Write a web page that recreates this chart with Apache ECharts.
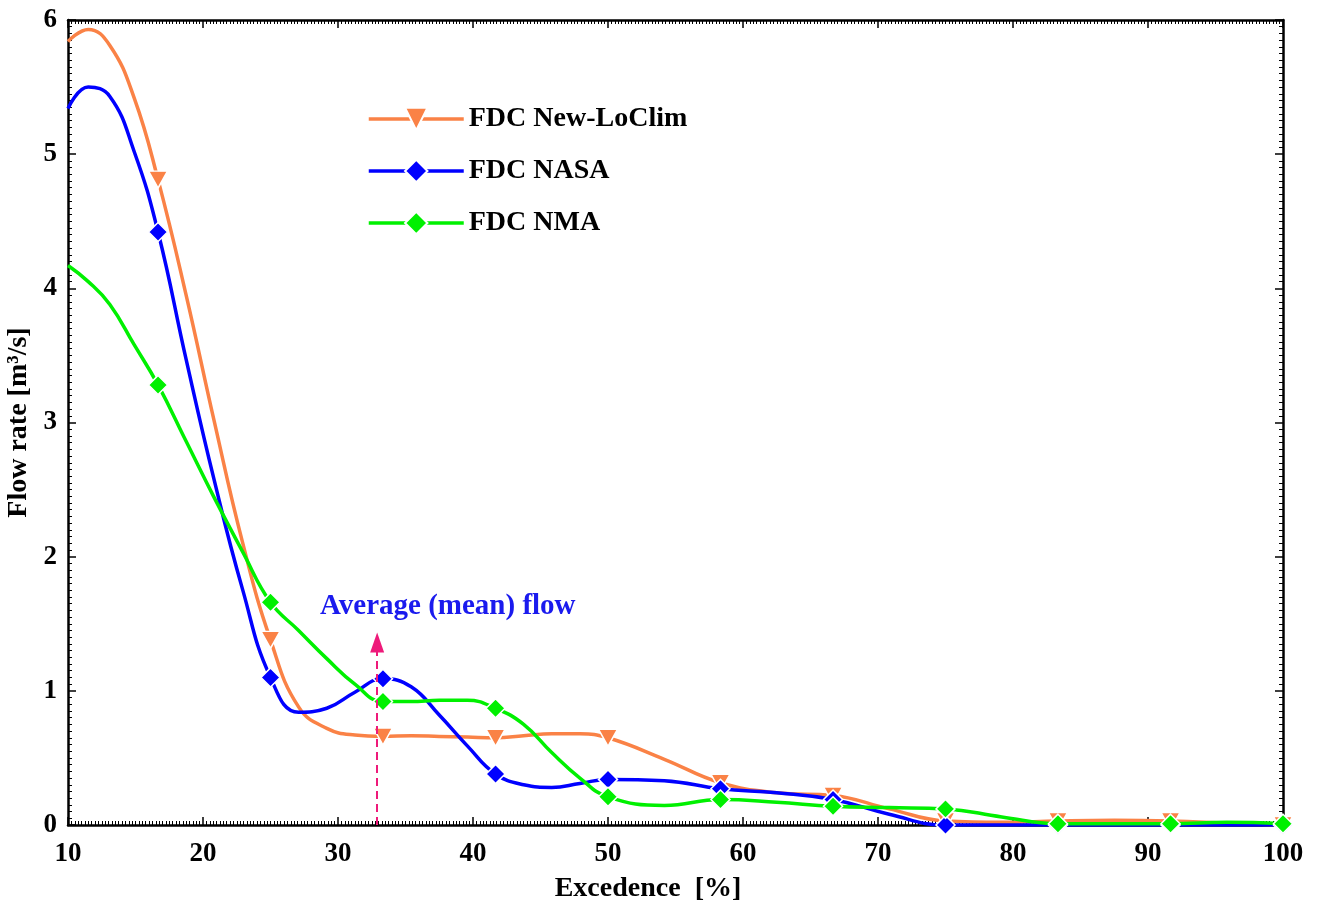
<!DOCTYPE html>
<html>
<head>
<meta charset="utf-8">
<title>FDC</title>
<script src="https://cdn.jsdelivr.net/npm/echarts@6/dist/echarts.min.js"></script>
<style>
html,body{margin:0;padding:0;background:#fff;}
#main{width:1320px;height:904px;}
</style>
</head>
<body>
<div id="main"></div>
<script>
// excedence [%] where the curves were read
var excedence = [10, 11.5, 13.1, 14.9, 16.67, 18.75, 20.83, 22.92, 25, 27.08, 29.17, 31.25, 33.33, 35.42, 37.5, 39.58, 41.67,
	43.75, 45.83, 47.92, 50, 54.17, 58.33, 62.5, 66.67, 70.83, 75, 79.17, 83.33, 87.5, 91.67, 95.83, 100];
// points that carry a marker
var markerX = [16.67, 25, 33.33, 41.67, 50, 58.33, 66.67, 75, 83.33, 91.67, 100];

var newLoClim = [5.84, 5.93, 5.81, 5.42, 4.81, 3.95, 3.01, 2.11, 1.38, 0.88, 0.72, 0.67, 0.66, 0.665, 0.66, 0.655, 0.65,
	0.665, 0.68, 0.68, 0.65, 0.49, 0.315, 0.24, 0.22, 0.12, 0.03, 0.02, 0.03, 0.035, 0.03, 0.015, 0.0];
var nasa = [5.34, 5.5, 5.43, 5.02, 4.42, 3.47, 2.57, 1.76, 1.1, 0.84, 0.87, 0.99, 1.09, 1.03, 0.82, 0.59, 0.38,
	0.3, 0.28, 0.31, 0.34, 0.33, 0.27, 0.24, 0.19, 0.08, 0.0, 0.0, 0.0, 0.0, 0.0, 0.0, 0.0];
var nma = [4.17, 4.05, 3.88, 3.58, 3.28, 2.86, 2.44, 2.04, 1.66, 1.45, 1.24, 1.05, 0.92, 0.92, 0.93, 0.93, 0.87,
	0.75, 0.54, 0.35, 0.21, 0.145, 0.19, 0.17, 0.14, 0.13, 0.12, 0.06, 0.01, 0.01, 0.01, 0.02, 0.01];

var meanFlowX = 32.9;
var meanArrowTop = 1.36;

var serifFont = 'Liberation Serif';

function buildData(vals){
	var out = [];
	for (var i = 0; i < excedence.length; i++) {
		var item = {value: [excedence[i], vals[i]]};
		if (markerX.indexOf(excedence[i]) < 0) item.symbol = 'none';
		out.push(item);
	}
	return out;
}

var chart = echarts.init(document.getElementById('main'));

var axisFont = {fontFamily: serifFont, fontWeight: 'bold', fontSize: 27, color: '#000'};
var nameFont = {fontFamily: serifFont, fontWeight: 'bold', fontSize: 28, color: '#000'};
var lineBlack = {color: '#000', width: 2.5};

function xAx(pos, showLabel){
	return {
		type: 'value', position: pos, min: 10, max: 100, interval: 10,
		axisLine: {show: true, onZero: false, lineStyle: lineBlack},
		axisTick: {show: true, inside: true, length: 8, lineStyle: {color: '#000', width: 1.5}},
		minorTick: {show: true, splitNumber: 40, length: 4, lineStyle: {color: '#000', width: 1}},
		splitLine: {show: false},
		axisLabel: showLabel ? Object.assign({margin: 16}, axisFont) : {show: false},
		name: showLabel ? 'Excedence  [%]' : '',
		nameLocation: 'middle', nameGap: 50,
		nameTextStyle: Object.assign({padding: [0, 55, 0, 0]}, nameFont)
	};
}
function yAx(pos, showLabel){
	return {
		type: 'value', position: pos, min: 0, max: 6, interval: 1,
		axisLine: {show: true, onZero: false, lineStyle: lineBlack},
		axisTick: {show: true, inside: true, length: 8, lineStyle: {color: '#000', width: 1.5}},
		minorTick: {show: true, splitNumber: 20, length: 4, lineStyle: {color: '#000', width: 1}},
		splitLine: {show: false},
		axisLabel: showLabel ? Object.assign({margin: 11}, axisFont) : {show: false},
		name: showLabel ? 'Flow rate [m³/s]' : '',
		nameLocation: 'middle', nameGap: 24, nameRotate: 90,
		nameTextStyle: nameFont
	};
}

function lineSeries(name, vals, color, symbol, rotate, size){
	return {
		name: name, type: 'line', smooth: 0.45, data: buildData(vals),
		symbol: symbol, symbolRotate: rotate, symbolSize: size,
		showSymbol: true, showAllSymbol: true,
		lineStyle: {color: color, width: 3.5},
		itemStyle: {color: color, borderColor: '#fff', borderWidth: 1.5},
		emphasis: {disabled: true},
		animation: false
	};
}

var sOrange = lineSeries('FDC New-LoClim', newLoClim, '#fa8246', 'triangle', 180, [19, 17]);
var sBlue = lineSeries('FDC NASA', nasa, '#0000ff', 'diamond', 0, 19);
var sGreen = lineSeries('FDC NMA', nma, '#00f000', 'diamond', 0, 19);

sBlue.markLine = {
	silent: true,
	symbol: ['none', 'triangle'],
	symbolSize: [14, 20],
	label: {show: false},
	lineStyle: {color: '#ee1a7a', width: 2, type: [8, 5]},
	data: [[{coord: [meanFlowX, 0]}, {coord: [meanFlowX, meanArrowTop]}]]
};

var option = {
	backgroundColor: '#fff',
	animation: false,
	grid: {left: 68, right: 37, top: 20, bottom: 79, containLabel: false, outerBoundsMode: 'none'},
	legend: {
		orient: 'vertical', left: 362, top: 100, itemGap: 24,
		itemWidth: 95, itemHeight: 28,
		lineStyle: {width: 3.5},
		textStyle: {fontFamily: serifFont, fontWeight: 'bold', fontSize: 28, color: '#000'},
		data: ['FDC New-LoClim', 'FDC NASA', 'FDC NMA']
	},
	graphic: [{
		type: 'text', left: 320, top: 592,
		style: {text: 'Average (mean) flow', fill: '#1a1aee', font: 'bold 29px "Liberation Serif"'}
	}],
	xAxis: [xAx('bottom', true), xAx('top', false)],
	yAxis: [yAx('left', true), yAx('right', false)],
	series: [sOrange, sBlue, sGreen]
};

chart.setOption(option);
</script>
</body>
</html>
